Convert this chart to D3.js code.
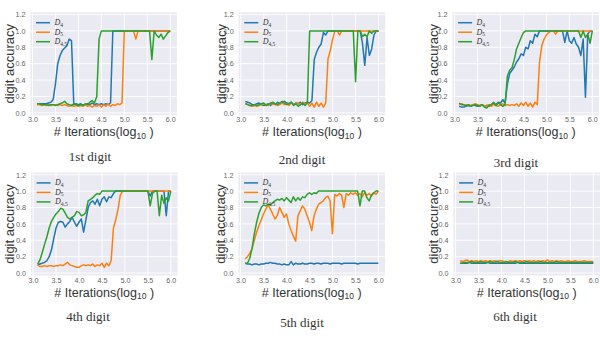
<!DOCTYPE html>
<html><head><meta charset="utf-8">
<script src="https://cdn.jsdelivr.net/npm/d3@7/dist/d3.min.js"></script>
<style>body{margin:0;background:#fff}svg{display:block}</style>
</head><body>
<svg id="chart" width="600" height="339"></svg>
<script>
// ---- data ----
const iterLog10 = [3.10,3.15,3.20,3.25,3.30,3.35,3.40,3.45,3.50,3.55,3.60,3.65,3.70,3.75,3.80,3.85,3.90,3.95,4.00,4.05,4.10,4.15,4.20,4.25,4.30,4.35,4.40,4.45,4.50,4.55,4.60,4.65,4.70,4.75,4.80,4.85,4.90,4.95,5.00,5.05,5.10,5.15,5.20,5.25,5.30,5.35,5.40,5.45,5.50,5.55,5.60,5.65,5.70,5.75,5.80,5.85,5.90,5.95,6.00];
const xTickValues = [3.0,3.5,4.0,4.5,5.0,5.5,6.0];
const yTickValues = [0.0,0.2,0.4,0.6,0.8,1.0,1.2];
const seriesSubscripts = ["4","5","4,5"];
const digitTitles = ["1st digit","2nd digit","3rd digit","4th digit","5th digit","6th digit"];

const d1_D4 = [0.11,0.11,0.11,0.11,0.11,0.12,0.13,0.16,0.35,0.60,0.70,0.76,0.79,0.82,0.90,0.88,0.10,0.11,0.10,0.11,0.09,0.10,0.11,0.10,0.12,0.10,0.11,0.10,0.11,0.10,0.11,0.10,0.12,1,1,1,1,1,1,1,1,1,1,1,1,1,1,1,1,1,1,1,1,1,1,1,1,1,1];
const d1_D5 = [0.10,0.10,0.09,0.10,0.09,0.10,0.09,0.10,0.10,0.09,0.10,0.09,0.10,0.09,0.08,0.09,0.08,0.09,0.08,0.09,0.08,0.10,0.08,0.09,0.07,0.09,0.08,0.10,0.07,0.10,0.08,0.11,0.08,0.10,0.09,0.11,0.10,0.12,1,1,1,1,1,0.90,1,1,1,1,1,1,1,1,1,1,1,1,1,1,1];
const d1_D45 = [0.11,0.11,0.10,0.10,0.10,0.09,0.10,0.10,0.09,0.10,0.11,0.12,0.14,0.11,0.10,0.09,0.11,0.10,0.09,0.10,0.09,0.11,0.10,0.13,0.15,0.12,0.20,0.90,1,1,1,1,1,1,1,1,1,1,1,1,1,1,1,1,1,1,1,1,1,1,0.65,1,0.95,0.92,0.96,0.90,0.94,0.98,1];

const d2_D4 = [0.14,0.13,0.12,0.10,0.10,0.11,0.12,0.10,0.09,0.10,0.11,0.09,0.12,0.10,0.13,0.11,0.12,0.14,0.12,0.11,0.13,0.10,0.12,0.11,0.13,0.10,0.12,0.13,0.12,0.15,0.65,0.74,0.80,0.84,0.98,0.95,1,1,1,1,1,1,1,1,1,1,1,1,1,1,1,0.85,0.58,0.92,0.70,0.78,0.95,1,1];
const d2_D5 = [0.12,0.10,0.09,0.08,0.09,0.08,0.09,0.10,0.11,0.10,0.09,0.12,0.10,0.11,0.09,0.10,0.12,0.10,0.11,0.09,0.12,0.10,0.11,0.12,0.10,0.13,0.11,0.12,0.08,0.12,0.07,0.13,0.08,0.12,0.07,0.12,0.66,0.76,0.90,1,1,0.95,1,1,1,1,1,1,1,1,1,1,1,1,1,1,1,1,1];
const d2_D45 = [0.11,0.10,0.09,0.09,0.10,0.09,0.10,0.11,0.12,0.09,0.10,0.12,0.13,0.11,0.10,0.12,0.14,0.12,0.10,0.11,0.13,0.09,0.11,0.08,0.10,0.12,0.09,0.12,1,1,1,1,1,1,1,1,1,1,1,1,1,1,1,1,1,1,1,1,0.38,1,1,0.93,0.96,0.93,1,0.97,1,1,1];

const d3_D4 = [0.08,0.07,0.07,0.08,0.09,0.08,0.10,0.09,0.08,0.09,0.10,0.08,0.09,0.08,0.10,0.12,0.10,0.13,0.12,0.16,0.12,0.35,0.48,0.52,0.56,0.62,0.66,0.72,0.70,0.80,0.78,0.88,0.85,0.96,0.93,1,1,1,1,1,1,1,1,1,1,1,0.86,1,0.88,0.85,0.92,0.84,0.80,0.70,0.90,0.19,0.96,1,1];
const d3_D5 = [0.10,0.11,0.10,0.09,0.10,0.09,0.10,0.11,0.10,0.09,0.10,0.08,0.09,0.10,0.08,0.10,0.09,0.08,0.10,0.11,0.09,0.10,0.09,0.10,0.09,0.11,0.08,0.12,0.09,0.13,0.08,0.12,0.07,0.13,0.10,0.62,0.82,0.90,0.95,0.98,1,1,0.96,1,1,1,1,1,1,1,1,1,1,1,1,1,1,1,1];
const d3_D45 = [0.12,0.10,0.10,0.09,0.10,0.08,0.09,0.10,0.09,0.08,0.10,0.07,0.06,0.09,0.10,0.13,0.09,0.12,0.10,0.08,0.10,0.45,0.52,0.55,0.65,0.78,0.85,0.92,0.98,1,1,1,1,1,1,1,1,1,1,1,1,1,1,1,1,1,1,1,1,1,1,1,1,0.92,1,0.92,0.96,0.85,1];

const d4_D4 = [0.10,0.11,0.12,0.13,0.15,0.20,0.28,0.42,0.55,0.62,0.63,0.62,0.56,0.60,0.63,0.68,0.62,0.57,0.62,0.66,0.50,0.65,0.80,0.86,0.88,0.84,0.90,0.82,0.90,0.93,0.87,0.93,0.92,0.97,1,1,1,1,1,1,1,1,1,1,1,1,1,1,1,0.94,1,1,1,1,1,1,0.70,1,1];
const d4_D5 = [0.10,0.08,0.08,0.09,0.08,0.09,0.09,0.08,0.09,0.09,0.10,0.09,0.11,0.13,0.10,0.09,0.08,0.07,0.07,0.09,0.10,0.09,0.10,0.09,0.11,0.08,0.10,0.09,0.12,0.07,0.12,0.09,0.15,0.55,0.65,0.78,0.95,1,1,1,1,1,1,1,1,1,1,1,1,1,1,1,1,1,1,1,1,1,1];
const d4_D45 = [0.11,0.16,0.25,0.35,0.44,0.55,0.63,0.68,0.72,0.75,0.79,0.78,0.73,0.68,0.66,0.68,0.70,0.75,0.74,0.70,0.71,0.74,0.88,0.90,0.92,0.95,0.97,0.96,1,1,1,1,1,1,1,1,1,1,1,1,1,1,1,1,1,1,1,1,1,0.82,0.97,1,1,0.70,0.95,0.85,0.92,0.88,1];

const d5_D4 = [0.12,0.11,0.11,0.10,0.11,0.11,0.10,0.11,0.11,0.12,0.12,0.13,0.12,0.12,0.11,0.11,0.10,0.11,0.10,0.10,0.14,0.10,0.12,0.11,0.11,0.12,0.11,0.11,0.12,0.12,0.11,0.12,0.12,0.11,0.12,0.12,0.12,0.11,0.12,0.12,0.12,0.12,0.11,0.12,0.12,0.12,0.12,0.12,0.12,0.11,0.12,0.12,0.12,0.12,0.12,0.12,0.12,0.12,0.12];
const d5_D5 = [0.17,0.20,0.24,0.30,0.40,0.50,0.58,0.65,0.72,0.78,0.83,0.78,0.72,0.66,0.70,0.80,0.74,0.68,0.72,0.60,0.52,0.45,0.39,0.70,0.76,0.82,0.78,0.70,0.62,0.52,0.70,0.78,0.84,0.86,0.88,0.92,0.94,0.88,0.48,0.96,0.94,0.97,0.95,0.80,0.97,0.95,0.98,0.96,0.98,0.95,0.97,0.93,0.98,0.95,0.97,0.94,0.98,0.96,1.00];
const d5_D45 = [0.12,0.12,0.18,0.30,0.48,0.62,0.73,0.80,0.83,0.82,0.84,0.83,0.86,0.88,0.90,0.89,0.91,0.88,0.92,0.89,0.86,0.93,0.88,0.92,0.89,0.93,0.92,0.96,0.98,0.96,0.98,0.97,1,1,1,1,1,1,1,1,1,1,1,1,1,1,1,1,1,1,0.82,1,1,0.92,0.88,0.95,0.98,1,1];

const d6_D4 = [0.12,0.12,0.12,0.12,0.13,0.12,0.12,0.12,0.12,0.12,0.12,0.12,0.13,0.12,0.12,0.12,0.12,0.12,0.12,0.12,0.12,0.12,0.12,0.12,0.12,0.13,0.12,0.12,0.12,0.12,0.12,0.12,0.12,0.12,0.12,0.12,0.12,0.12,0.12,0.12,0.12,0.12,0.12,0.12,0.12,0.12,0.12,0.12,0.12,0.12,0.12,0.12,0.12,0.12,0.12,0.12,0.12,0.12,0.12];
const d6_D5 = [0.15,0.14,0.15,0.16,0.14,0.15,0.14,0.15,0.14,0.15,0.14,0.15,0.14,0.15,0.14,0.15,0.14,0.15,0.15,0.14,0.13,0.14,0.15,0.14,0.15,0.14,0.15,0.14,0.15,0.14,0.15,0.14,0.15,0.14,0.15,0.14,0.15,0.14,0.16,0.14,0.15,0.14,0.15,0.14,0.15,0.14,0.14,0.15,0.14,0.14,0.15,0.14,0.14,0.14,0.15,0.14,0.14,0.14,0.14];
const d6_D45 = [0.12,0.12,0.13,0.13,0.13,0.14,0.13,0.13,0.13,0.14,0.13,0.13,0.13,0.14,0.13,0.13,0.14,0.13,0.13,0.13,0.14,0.13,0.13,0.13,0.14,0.13,0.13,0.13,0.13,0.14,0.13,0.13,0.13,0.13,0.13,0.14,0.13,0.13,0.13,0.13,0.13,0.13,0.14,0.13,0.13,0.13,0.13,0.13,0.13,0.13,0.13,0.13,0.13,0.13,0.13,0.13,0.13,0.13,0.13];

const panelSeries = [
  [d1_D4, d1_D5, d1_D45],
  [d2_D4, d2_D5, d2_D45],
  [d3_D4, d3_D5, d3_D45],
  [d4_D4, d4_D5, d4_D45],
  [d5_D4, d5_D5, d5_D45],
  [d6_D4, d6_D5, d6_D45]
];

// ---- layout / style ----
const colors = ["#1f77b4", "#ff7f0e", "#2ca02c"];
const W = 146.5, H = 103;
const layout = [
  {left: 30.4, top: 12.3, ylab: 9.5, tx: 90, ty: 161},
  {left: 238.7, top: 12.3, ylab: 221, tx: 302, ty: 164},
  {left: 452.5, top: 12.3, ylab: 433, tx: 516, ty: 167},
  {left: 31, top: 172.5, ylab: 9.5, tx: 88, ty: 321},
  {left: 238.5, top: 172.5, ylab: 220, tx: 302, ty: 327},
  {left: 453.5, top: 172.5, ylab: 433, tx: 515, ty: 321}
];

const svg = d3.select("#chart");
const x = d3.scaleLinear().domain([2.955, 6.145]).range([0, W]);
const y = d3.scaleLinear().domain([-0.03, 1.227]).range([H, 0]);
const fmt = d3.format(".1f");

layout.forEach((p, pi) => {
  const g = svg.append("g").attr("transform", `translate(${p.left},${p.top})`);
  g.append("rect").attr("width", W).attr("height", H).attr("fill", "#EAEAF2");
  // grid
  g.append("g").selectAll("line").data(xTickValues).join("line")
    .attr("x1", d => x(d)).attr("x2", d => x(d)).attr("y1", 0).attr("y2", H)
    .attr("stroke", "#fff").attr("stroke-width", 0.9);
  g.append("g").selectAll("line").data(yTickValues).join("line")
    .attr("y1", d => y(d)).attr("y2", d => y(d)).attr("x1", 0).attr("x2", W)
    .attr("stroke", "#fff").attr("stroke-width", 0.9);
  // axes
  const xa = g.append("g").attr("transform", `translate(0,${H})`)
    .call(d3.axisBottom(x).tickValues(xTickValues).tickFormat(fmt).tickSize(0).tickPadding(2));
  const ya = g.append("g")
    .call(d3.axisLeft(y).tickValues(yTickValues).tickFormat(fmt).tickSize(0).tickPadding(5));
  [xa, ya].forEach(a => {
    a.select(".domain").remove();
    a.selectAll("text").attr("font-family", "Liberation Sans, Arial, sans-serif")
      .attr("font-size", 7.2).attr("fill", "#666");
  });
  // lines
  const line = d3.line().x((d, i) => x(iterLog10[i])).y(d => y(d));
  const clipId = "clip" + pi;
  g.append("clipPath").attr("id", clipId).append("rect").attr("width", W).attr("height", H);
  panelSeries[pi].forEach((vals, si) => {
    g.append("path").datum(vals).attr("d", line)
      .attr("fill", "none").attr("stroke", colors[si]).attr("stroke-width", 1.5)
      .attr("stroke-linejoin", "round").attr("clip-path", `url(#${clipId})`);
  });
  // legend
  seriesSubscripts.forEach((s, si) => {
    const ly = 10.4 + si * 9.5;
    g.append("line").attr("x1", 5.6).attr("x2", 19.6).attr("y1", ly).attr("y2", ly)
      .attr("stroke", colors[si]).attr("stroke-width", 1.5);
    const t = g.append("text").attr("x", 24).attr("y", ly + 2.5)
      .attr("font-family", "Liberation Serif, Times New Roman, serif")
      .attr("font-size", 8).attr("fill", "#333");
    t.append("tspan").attr("font-style", "italic").text("D");
    t.append("tspan").attr("font-size", 5.5).attr("dy", 1.5).text(s);
  });
  // y label
  svg.append("text")
    .attr("transform", `translate(${p.ylab},${p.top + H / 2}) rotate(-90)`)
    .attr("text-anchor", "middle").attr("dy", "0.35em")
    .attr("font-family", "Liberation Sans, Arial, sans-serif").attr("font-size", 13)
    .attr("fill", "#333").text("digit accuracy");
  // x label
  const xl = svg.append("text").attr("x", p.left + W / 2).attr("y", p.top + H + 21)
    .attr("text-anchor", "middle")
    .attr("font-family", "Liberation Sans, Arial, sans-serif").attr("font-size", 12.5)
    .attr("fill", "#333");
  xl.append("tspan").text("# Iterations(log");
  xl.append("tspan").attr("font-size", 8.5).attr("dy", 2.5).text("10");
  xl.append("tspan").attr("dy", -2.5).text(" )");
  // title
  svg.append("text").attr("x", p.tx).attr("y", p.ty).attr("text-anchor", "middle")
    .attr("font-family", "Liberation Serif, Times New Roman, serif").attr("font-size", 13)
    .attr("fill", "#333").text(digitTitles[pi]);
});
</script>
</body></html>
